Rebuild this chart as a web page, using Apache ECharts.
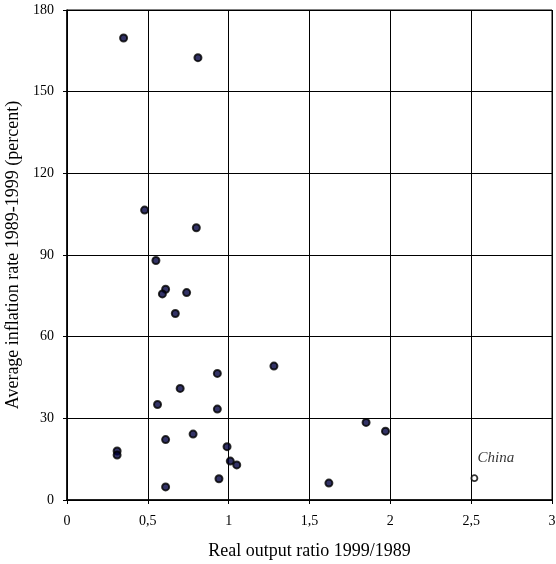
<!DOCTYPE html>
<html>
<head>
<meta charset="utf-8">
<script src="https://cdn.jsdelivr.net/npm/echarts@6/dist/echarts.min.js"></script>
<style>
  html, body { margin: 0; padding: 0; background: #fff; }
  #chart { width: 556px; height: 564px; }
</style>
</head>
<body>
<div id="chart"></div>
<script>
// output ratio 1999/1989 vs average inflation 1989-1999
const outputRatio = [0.35, 0.81, 0.48, 0.80, 0.55, 0.61, 0.59, 0.74, 0.67, 1.28, 0.93, 0.70,
  0.56, 0.93, 0.78, 0.61, 0.31, 0.31, 0.99, 1.01, 1.05, 0.94, 0.61, 1.85, 1.97, 1.62];
const inflation = [169.7, 162.5, 106.5, 100, 88, 77.4, 75.7, 76.2, 68.5, 49.2, 46.5, 41.0,
  35.1, 33.4, 24.2, 22.2, 18.0, 16.5, 19.6, 14.3, 12.9, 7.8, 4.8, 28.5, 25.3, 6.2];
const chinaPoint = [2.52, 8.0];
const xTicks = ['0', '0,5', '1', '1,5', '2', '2,5', '3'];

const font = 'Liberation Serif';
const chart = echarts.init(document.getElementById('chart'));

const option = {
  animation: false,
  grid: {
    left: 67,
    right: 4,
    top: 10,
    bottom: 64,
    containLabel: false,
    outerBoundsMode: 'none',
    show: true,
    borderColor: '#000',
    borderWidth: 1
  },
  xAxis: {
    type: 'value',
    min: 0,
    max: 3,
    interval: 0.5,
    name: 'Real output ratio 1999/1989',
    nameLocation: 'middle',
    nameGap: 42,
    nameTextStyle: { fontFamily: font, fontSize: 18, color: '#000' },
    axisLine: { lineStyle: { color: '#000', width: 1.5 } },
    axisTick: { show: true, length: 4, lineStyle: { color: '#000' } },
    axisLabel: {
      fontFamily: font, fontSize: 14, color: '#000', margin: 14,
      formatter: function(v) { return xTicks[Math.round(v * 2)]; }
    },
    splitLine: { show: true, lineStyle: { color: '#000', width: 1 } }
  },
  yAxis: {
    type: 'value',
    min: 0,
    max: 180,
    interval: 30,
    name: 'Average inflation rate 1989-1999 (percent)',
    nameLocation: 'middle',
    nameGap: 44,
    nameTextStyle: { fontFamily: font, fontSize: 18, color: '#000' },
    axisLine: { show: true, lineStyle: { color: '#000', width: 1.5 } },
    axisTick: { show: true, length: 4, lineStyle: { color: '#000' } },
    axisLabel: { fontFamily: font, fontSize: 14, color: '#000', margin: 13 },
    splitLine: { show: true, lineStyle: { color: '#000', width: 1 } }
  },
  series: [
    {
      type: 'scatter',
      symbol: 'circle',
      symbolSize: 7,
      data: outputRatio.map((x, i) => [x, inflation[i]]),
      itemStyle: { color: '#000040', borderColor: '#000', borderWidth: 2 }
    },
    {
      type: 'scatter',
      symbol: 'circle',
      symbolSize: 6,
      data: [chinaPoint],
      itemStyle: { color: '#fff', borderColor: '#000', borderWidth: 1.8 },
      label: {
        show: true,
        formatter: 'China',
        position: [7, -24],
        fontFamily: font,
        fontStyle: 'italic',
        fontSize: 15,
        color: '#000'
      }
    }
  ]
};

chart.setOption(option);
</script>
</body>
</html>
